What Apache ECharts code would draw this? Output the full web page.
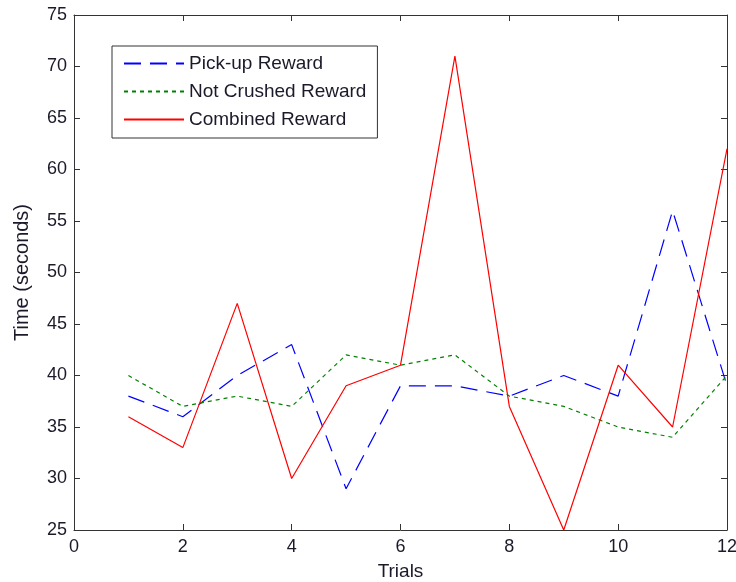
<!DOCTYPE html>
<html>
<head>
<meta charset="utf-8">
<script src="https://cdn.jsdelivr.net/npm/echarts@6/dist/echarts.min.js"></script>
<style>
  html, body { margin: 0; padding: 0; background: #fff; }
  #main { width: 736px; height: 582px; }
</style>
</head>
<body>
<div id="main"></div>
<script>
// 数据
var trials = [1, 2, 3, 4, 5, 6, 7, 8, 9, 10, 11, 12];
var pickupReward = [38, 36, 40, 43, 29, 39, 39, 38, 40, 38, 56, 39];
var notCrushedReward = [40, 37, 38, 37, 42, 41, 42, 38, 37, 35, 34, 40];
var combinedReward = [36, 33, 47, 30, 39, 41, 71, 37, 25, 41, 35, 62];

function pairs(xs, ys) {
  return xs.map(function (x, i) { return [x, ys[i]]; });
}

var font = 'Liberation Sans, Arial, sans-serif';
var axisCol = '#333';
var textCol = '#1a1a2a';

var myChart = echarts.init(document.getElementById('main'));

var baseAxis = {
  axisLine: { show: true, onZero: false, lineStyle: { color: axisCol, width: 1 } },
  axisTick: { show: true, inside: true, length: 6, lineStyle: { color: axisCol } },
  splitLine: { show: false },
  axisLabel: { color: textCol, fontFamily: font, fontSize: 18 }
};

var option = {
  animation: false,
  backgroundColor: '#fff',
  grid: { left: 74, right: 9, top: 15, bottom: 52, outerBoundsMode: 'none', containLabel: false },
  legend: {
    orient: 'vertical',
    left: 112,
    top: 46,
    padding: [8, 11, 9, 11],
    itemGap: 9,
    itemWidth: 60,
    itemHeight: 20,
    borderColor: '#333',
    borderWidth: 1,
    backgroundColor: '#fff',
    itemStyle: { opacity: 0 },
    textStyle: { color: textCol, fontFamily: font, fontSize: 19 },
    data: ['Pick-up Reward', 'Not Crushed Reward', 'Combined Reward']
  },
  xAxis: [
    Object.assign({}, baseAxis, {
      type: 'value', min: 0, max: 12, interval: 2,
      name: 'Trials', nameLocation: 'middle', nameGap: 32,
      nameTextStyle: { color: textCol, fontFamily: font, fontSize: 19 },
      axisLabel: Object.assign({}, baseAxis.axisLabel, { margin: 8 })
    }),
    Object.assign({}, baseAxis, {
      type: 'value', min: 0, max: 12, interval: 2, position: 'top',
      axisLabel: { show: false }
    })
  ],
  yAxis: [
    Object.assign({}, baseAxis, {
      type: 'value', min: 25, max: 75, interval: 5,
      name: 'Time (seconds)', nameLocation: 'middle', nameGap: 42,
      nameTextStyle: { color: textCol, fontFamily: font, fontSize: 20 },
      axisLabel: Object.assign({}, baseAxis.axisLabel, { margin: 7 })
    }),
    Object.assign({}, baseAxis, {
      type: 'value', min: 25, max: 75, interval: 5, position: 'right',
      axisLabel: { show: false }
    })
  ],
  series: [
    {
      name: 'Pick-up Reward', type: 'line', showSymbol: false, symbol: 'none',
      data: pairs(trials, pickupReward),
      lineStyle: { color: '#0000ff', width: 1.2, type: [17, 9] },
      itemStyle: { color: '#0000ff' }
    },
    {
      name: 'Not Crushed Reward', type: 'line', showSymbol: false, symbol: 'none',
      data: pairs(trials, notCrushedReward),
      lineStyle: { color: '#008000', width: 1.2, type: [4, 4] },
      itemStyle: { color: '#008000' }
    },
    {
      name: 'Combined Reward', type: 'line', showSymbol: false, symbol: 'none',
      data: pairs(trials, combinedReward),
      lineStyle: { color: '#ff0000', width: 1.2 },
      itemStyle: { color: '#ff0000' }
    }
  ]
};

myChart.setOption(option);
</script>
</body>
</html>
